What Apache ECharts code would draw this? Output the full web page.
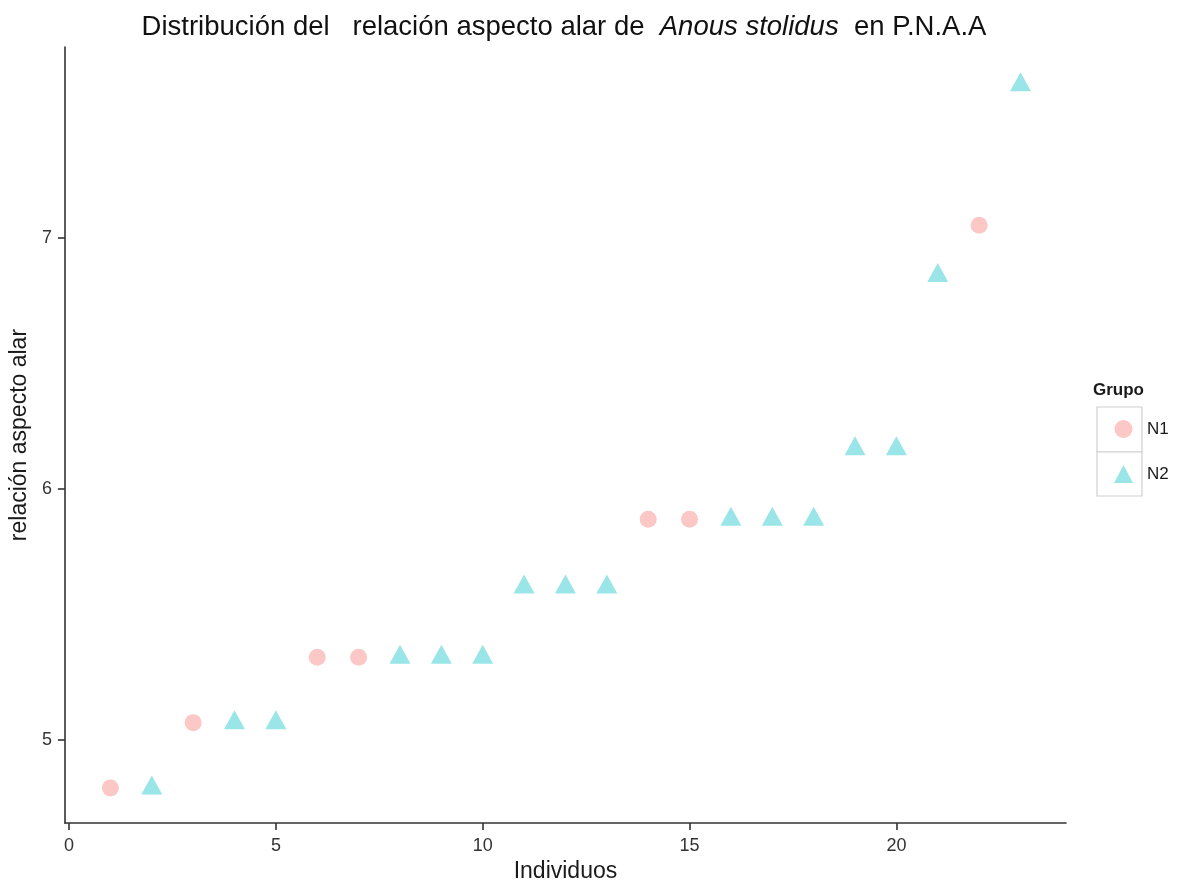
<!DOCTYPE html>
<html>
<head>
<meta charset="utf-8">
<script src="https://cdn.jsdelivr.net/npm/echarts@6/dist/echarts.min.js"></script>
<style>
html,body{margin:0;padding:0;background:#fff;}
#c{width:1177px;height:888px;}
</style>
</head>
<body>
<div id="c"></div>
<script>
// Data
const n1X = [1, 3, 6, 7, 14, 15, 22];
const n1Y = [4.81, 5.07, 5.33, 5.33, 5.88, 5.88, 7.05];
const n2X = [2, 4, 5, 8, 9, 10, 11, 12, 13, 16, 17, 18, 19, 20, 21, 23];
const n2Y = [4.81, 5.07, 5.07, 5.33, 5.33, 5.33, 5.61, 5.61, 5.61, 5.88, 5.88, 5.88, 6.16, 6.16, 6.85, 7.61];
const groups = ['N1', 'N2'];
const xTicks = [0, 5, 10, 15, 20];
const yTicks = [5, 6, 7];

const FONT = 'Liberation Sans';
const chart = echarts.init(document.getElementById('c'), null, {renderer: 'canvas'});

const pair = (xs, ys) => xs.map((x, i) => [x, ys[i]]);

chart.setOption({
  animation: false,
  backgroundColor: '#ffffff',
  textStyle: {fontFamily: FONT},
  grid: {left: 62, right: 111, top: 47, bottom: 58, containLabel: false},
  xAxis: {
    type: 'value', min: -0.1, max: 24.1,
    name: 'Individuos', nameLocation: 'middle', nameGap: 34,
    nameTextStyle: {fontFamily: FONT, fontSize: 23, color: '#1a1a1a'},
    axisLine: {show: true, onZero: false, lineStyle: {color: '#333', width: 1.6}},
    axisTick: {show: true, length: 7, customValues: xTicks, lineStyle: {color: '#333', width: 1.6}},
    axisLabel: {customValues: xTicks, margin: 14, fontFamily: FONT, fontSize: 18, color: '#333'},
    splitLine: {show: false}
  },
  yAxis: {
    type: 'value', min: 4.67, max: 7.76,
    name: 'relación aspecto alar', nameLocation: 'middle', nameGap: 33,
    nameTextStyle: {fontFamily: FONT, fontSize: 23, color: '#1a1a1a'},
    axisLine: {show: true, onZero: false, lineStyle: {color: '#333', width: 1.6}},
    axisTick: {show: true, length: 7, customValues: yTicks, lineStyle: {color: '#333', width: 1.6}},
    axisLabel: {customValues: yTicks, margin: 13, fontFamily: FONT, fontSize: 18, color: '#333'},
    splitLine: {show: false}
  },
  legend: {
    orient: 'vertical', left: 1109, top: 415,
    itemWidth: 19, itemHeight: 18, itemGap: 27,
    data: [
      {name: groups[0], icon: 'circle'},
      {name: groups[1], icon: 'triangle'}
    ],
    textStyle: {fontFamily: FONT, fontSize: 17, color: '#1a1a1a', padding: [0, 0, 0, 9]}
  },
  graphic: [
    {type: 'text', x: 564, y: 27, style: {
      text: 'Distribución del   relación aspecto alar de  {i|Anous stolidus}  en P.N.A.A',
      font: '27.5px "Liberation Sans"', fill: '#111', align: 'center', verticalAlign: 'middle',
      rich: {i: {fontStyle: 'italic', fontSize: 27.5, fontFamily: FONT, fill: '#111'}}
    }},
    {type: 'text', x: 1093, y: 390, style: {text: 'Grupo', font: 'bold 17px "Liberation Sans"', fill: '#1a1a1a', verticalAlign: 'middle'}},
    {type: 'rect', shape: {x: 1097, y: 407, width: 45, height: 45}, style: {fill: '#fff', stroke: '#d0d0d0', lineWidth: 1.2}, z: -1},
    {type: 'rect', shape: {x: 1097, y: 452, width: 45, height: 44}, style: {fill: '#fff', stroke: '#d0d0d0', lineWidth: 1.2}, z: -1}
  ],
  series: [
    {name: groups[0], type: 'scatter', symbol: 'circle', symbolSize: 17,
     itemStyle: {color: 'rgba(248,118,109,0.5)'}, data: pair(n1X, n1Y)},
    {name: groups[1], type: 'scatter', symbol: 'triangle', symbolSize: [21, 19], symbolOffset: [0, -3],
     itemStyle: {color: 'rgba(0,191,196,0.5)'}, data: pair(n2X, n2Y)}
  ]
});
</script>
</body>
</html>
